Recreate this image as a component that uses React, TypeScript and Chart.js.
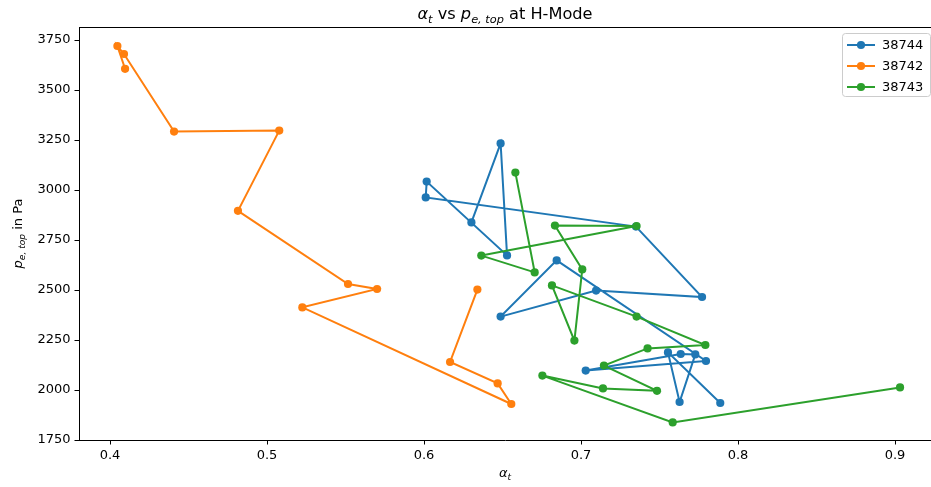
import React, { useEffect, useRef } from "react";
import { Chart, registerables } from "chart.js";

Chart.register(...registerables);

// ---- data ----
const blueX = [0.6302, 0.6488, 0.6529, 0.6017, 0.6011, 0.7350, 0.7771, 0.7096, 0.6488, 0.6845, 0.7796, 0.7030, 0.7635, 0.7728, 0.7628, 0.7554, 0.7887];
const blueY = [2838, 3233, 2673, 3042, 2963, 2817, 2465, 2497, 2367, 2648, 2145, 2097, 2180, 2178, 1940, 2188, 1935];

const orangeX = [0.4096, 0.4047, 0.4089, 0.4408, 0.5078, 0.4815, 0.5516, 0.5701, 0.5225, 0.6556, 0.6469, 0.6166, 0.6340];
const orangeY = [3606, 3720, 3680, 3292, 3297, 2896, 2530, 2505, 2413, 1930, 2033, 2140, 2502];

const greenX = [0.6582, 0.6705, 0.6365, 0.7354, 0.6834, 0.7008, 0.6958, 0.6815, 0.7354, 0.7792, 0.7424, 0.7146, 0.7484, 0.7140, 0.6754, 0.7584, 0.9032];
const greenY = [3087, 2588, 2672, 2820, 2822, 2603, 2247, 2523, 2367, 2225, 2208, 2122, 1996, 2008, 2072, 1838, 2013];

const seriesNames = ["38744", "38742", "38743"];
const seriesColors = ["#1f77b4", "#ff7f0e", "#2ca02c"];

const xTicks = [0.4, 0.5, 0.6, 0.7, 0.8, 0.9];
const yTicks = [1750, 2000, 2250, 2500, 2750, 3000, 3250, 3500, 3750];
const xMin = 0.38025;
const xMax = 0.92293;
const yMin = 1750;
const yMax = 3815;

const FONT = '"DejaVu Sans", sans-serif';

type Seg = { t: string; it?: boolean; sub?: boolean };

function segFont(s: Seg, size: number) {
  return `${s.it ? "italic " : ""}${s.sub ? size * 0.7 : size}px ${FONT}`;
}

function drawRich(ctx: CanvasRenderingContext2D, segs: Seg[], x: number, y: number, size: number, rotate = 0) {
  ctx.save();
  ctx.translate(x, y);
  if (rotate) ctx.rotate(rotate);
  let total = 0;
  const widths = segs.map((s) => {
    ctx.font = segFont(s, size);
    const w = ctx.measureText(s.t).width;
    total += w;
    return w;
  });
  let cx = -total / 2;
  ctx.fillStyle = "#000";
  ctx.textBaseline = "alphabetic";
  ctx.textAlign = "left";
  segs.forEach((s, i) => {
    ctx.font = segFont(s, size);
    ctx.fillText(s.t, cx, s.sub ? size * 0.24 : 0);
    cx += widths[i];
  });
  ctx.restore();
}

const decorPlugin = {
  id: "decor",
  afterDraw(chart: any) {
    const ctx: CanvasRenderingContext2D = chart.ctx;
    const a = chart.chartArea;
    const cx = 505;
    ctx.save();
    ctx.strokeStyle = "#000";
    ctx.lineWidth = 1;
    ctx.beginPath();
    ctx.moveTo(a.left, a.top + 0.5);
    ctx.lineTo(chart.width, a.top + 0.5);
    ctx.stroke();
    ctx.restore();

    drawRich(ctx, [
      { t: "α", it: true },
      { t: "t", it: true, sub: true },
      { t: " vs " },
      { t: "p", it: true },
      { t: "e, top", it: true, sub: true },
      { t: " at H-Mode" },
    ], cx, 19, 16.2);

    drawRich(ctx, [
      { t: "α", it: true },
      { t: "t", it: true, sub: true },
    ], cx, 477, 13);

    drawRich(ctx, [
      { t: "p", it: true },
      { t: "e, top", it: true, sub: true },
      { t: " in Pa" },
    ], 22, (a.top + a.bottom) / 2, 13, -Math.PI / 2);

    const lx = 842;
    const ly = a.top + 6;
    const lw = 88;
    const lh = 63;
    ctx.save();
    ctx.fillStyle = "rgba(255,255,255,0.8)";
    ctx.strokeStyle = "#cccccc";
    ctx.lineWidth = 1;
    ctx.beginPath();
    (ctx as any).roundRect(lx + 0.5, ly + 0.5, lw, lh, 3);
    ctx.fill();
    ctx.stroke();
    seriesNames.forEach((name, i) => {
      const yy = ly + 12 + i * 21;
      ctx.strokeStyle = seriesColors[i];
      ctx.lineWidth = 2;
      ctx.beginPath();
      ctx.moveTo(lx + 5, yy);
      ctx.lineTo(lx + 33, yy);
      ctx.stroke();
      ctx.fillStyle = seriesColors[i];
      ctx.beginPath();
      ctx.arc(lx + 19, yy, 4.1, 0, Math.PI * 2);
      ctx.fill();
      ctx.fillStyle = "#000";
      ctx.font = `13px ${FONT}`;
      ctx.textBaseline = "middle";
      ctx.textAlign = "left";
      ctx.fillText(name, lx + 40, yy + 0.5);
    });
    ctx.restore();
  },
};

function toPts(xs: number[], ys: number[]) {
  return xs.map((x, i) => ({ x, y: ys[i] }));
}

export default function App() {
  const ref = useRef<HTMLCanvasElement>(null);
  useEffect(() => {
    if (!ref.current) return;
    const mk = (i: number, xs: number[], ys: number[], order: number) => ({
      label: seriesNames[i],
      data: toPts(xs, ys),
      showLine: true,
      borderColor: seriesColors[i],
      backgroundColor: seriesColors[i],
      borderWidth: 2,
      pointRadius: 4.1,
      pointBorderWidth: 0,
      pointHoverRadius: 4.1,
      tension: 0,
      order,
    });
    const chart = new Chart(ref.current, {
      type: "scatter",
      data: {
        datasets: [
          mk(0, blueX, blueY, 2),
          mk(1, orangeX, orangeY, 1),
          mk(2, greenX, greenY, 0),
        ],
      },
      options: {
        animation: false,
        responsive: false,
        devicePixelRatio: 1,
        layout: { autoPadding: false, padding: { top: 27, left: 0, right: 0, bottom: 0 } },
        plugins: { legend: { display: false }, tooltip: { enabled: false }, title: { display: false } },
        events: [],
        scales: {
          x: {
            type: "linear",
            min: xMin,
            max: xMax,
            afterBuildTicks: (s: any) => { s.ticks = xTicks.map((v) => ({ value: v })); },
            afterFit: (s: any) => { s.height = 47; s.paddingLeft = 0; s.paddingRight = 0; },
            grid: { display: true, drawOnChartArea: false, drawTicks: true, tickLength: 4.5, color: "#000", tickWidth: 1 },
            border: { display: true, color: "#000", width: 1 },
            ticks: {
              color: "#000",
              font: { family: FONT, size: 13 },
              padding: 3,
              maxRotation: 0,
              autoSkip: false,
              callback: (v: any) => Number(v).toFixed(1),
            },
          },
          y: {
            type: "linear",
            min: yMin,
            max: yMax,
            afterBuildTicks: (s: any) => { s.ticks = yTicks.map((v) => ({ value: v })); },
            afterFit: (s: any) => { s.width = 79; s.paddingTop = 0; s.paddingBottom = 0; },
            grid: { display: true, drawOnChartArea: false, drawTicks: true, tickLength: 4.5, color: "#000", tickWidth: 1 },
            border: { display: true, color: "#000", width: 1 },
            ticks: {
              color: "#000",
              font: { family: FONT, size: 13 },
              padding: 4,
              autoSkip: false,
              callback: (v: any) => String(v),
            },
          },
        },
      },
      plugins: [decorPlugin],
    } as any);
    return () => chart.destroy();
  }, []);
  return (
    <div style={{ position: "absolute", left: 0, top: 0, width: 931, height: 487, background: "#fff" }}>
      <canvas ref={ref} width={931} height={487} style={{ width: 931, height: 487, display: "block" }} />
    </div>
  );
}
